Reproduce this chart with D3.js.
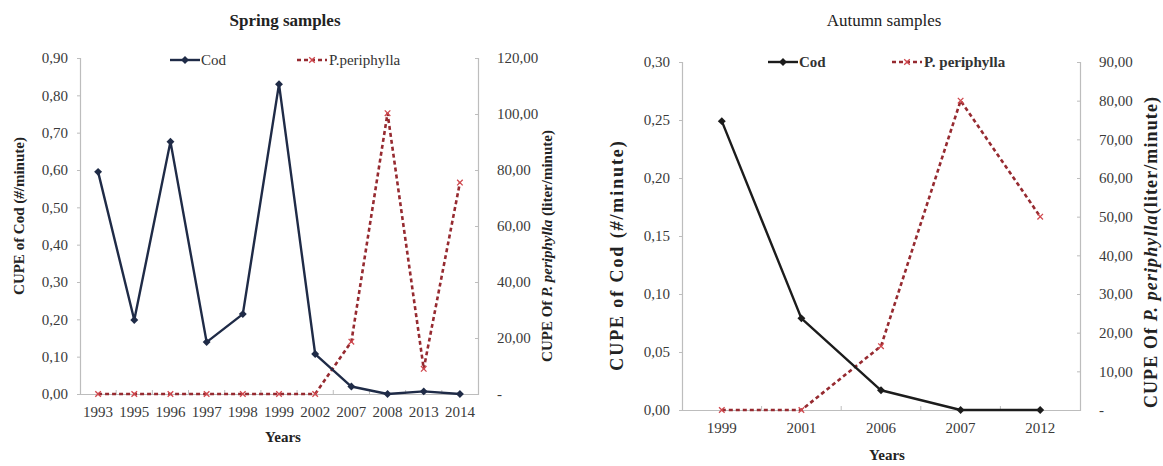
<!DOCTYPE html>
<html>
<head>
<meta charset="utf-8">
<script src="https://cdn.jsdelivr.net/npm/d3@7"></script>
<style>
  html, body { margin: 0; padding: 0; background: #fff; }
  svg { display: block; }
  svg text { font-family: "Liberation Serif", "DejaVu Serif", serif !important; }
</style>
</head>
<body>
<svg id="chart" width="1163" height="466"></svg>
<script>
// ---------- data ----------
const springYears = ["1993","1995","1996","1997","1998","1999","2002","2007","2008","2013","2014"];
const springCod   = [0.595, 0.198, 0.676, 0.139, 0.214, 0.830, 0.107, 0.020, 0.000, 0.007, 0.000];
const springPer   = [0, 0, 0, 0, 0, 0, 0, 18.7, 100.3, 9.0, 75.5];

const autumnYears = ["1999","2001","2006","2007","2012"];
const autumnCod   = [0.249, 0.079, 0.017, 0.000, 0.000];
const autumnPer   = [0, 0, 16.5, 80, 50];

const springCodTicks = [0, 0.1, 0.2, 0.3, 0.4, 0.5, 0.6, 0.7, 0.8, 0.9];
const springPerTicks = [0, 20, 40, 60, 80, 100, 120];
const autumnCodTicks = [0, 0.05, 0.10, 0.15, 0.20, 0.25, 0.30];
const autumnPerTicks = [0, 10, 20, 30, 40, 50, 60, 70, 80, 90];

const titles = ["Spring samples", "Autumn samples"];
const legendCod = "Cod";
const legendPerSpring = "P.periphylla";
const legendPerAutumn = "P. periphylla";

// ---------- helpers ----------
const loc = d3.formatLocale({decimal: ",", thousands: ".", grouping: [3], currency: ["", ""]});
const fmt2 = loc.format(".2f");
const fmtRight = d => d === 0 ? "-" : fmt2(d);

const svg = d3.select("#chart");
const axisGray = "#bdbdbd";
const tickText = "#3a3a3a";
const redCol = "#962a30";

function panel(o) {
  const g = svg.append("g");
  const x = d3.scaleBand().domain(o.years).range([o.x0, o.x1]).paddingInner(0).paddingOuter(0);
  const yL = d3.scaleLinear().domain([0, o.codMax]).range([o.y0, o.yTop]);
  const yR = d3.scaleLinear().domain([0, o.perMax]).range([o.y0, o.yTop]);
  const cx = d => x(d) + x.bandwidth() / 2;

  // title
  g.append("text").attr("x", o.titleX).attr("y", 26).attr("text-anchor", "middle")
    .attr("font-size", 17).attr("font-weight", o.titleBold ? "bold" : "normal")
    .attr("fill", "#222").text(o.title);

  // left axis
  const aL = g.append("g").attr("transform", `translate(${o.x0},0)`)
    .call(d3.axisLeft(yL).tickValues(o.codTicks).tickFormat(fmt2).tickSize(3).tickPadding(9));
  // right axis
  const aR = g.append("g").attr("transform", `translate(${o.x1},0)`)
    .call(d3.axisRight(yR).tickValues(o.perTicks).tickFormat(fmtRight).tickSize(-3).tickPadding(19));
  [aL, aR].forEach(a => {
    a.select(".domain").attr("stroke", axisGray).attr("stroke-width", 1.2);
    a.selectAll(".tick line").attr("stroke", axisGray);
    a.selectAll(".tick text").attr("fill", tickText).attr("font-size", 15);
  });

  // bottom axis
  const aB = g.append("g").attr("transform", `translate(0,${o.y0})`)
    .call(d3.axisBottom(x).tickSize(0).tickPadding(o.xPad));
  aB.select(".domain").attr("stroke", axisGray).attr("stroke-width", 1.2);
  aB.selectAll(".tick text").attr("fill", tickText).attr("font-size", 15);
  // category boundary ticks
  aB.selectAll("line.bt").data(o.years.slice(1)).enter().append("line").attr("class", "bt")
    .attr("x1", d => x(d)).attr("x2", d => x(d)).attr("y1", 0).attr("y2", -4)
    .attr("stroke", axisGray);

  // axis titles
  const lt = g.append("text")
    .attr("transform", `translate(${o.ltX},${o.ltY}) rotate(-90)`)
    .attr("text-anchor", "middle").attr("font-size", o.axFont).attr("font-weight", "bold").attr("fill", "#222")
    .attr("letter-spacing", o.ltSpacing);
  lt.append("tspan").text("CUPE of Cod (");
  lt.append("tspan").attr("font-style", "italic").text("#");
  lt.append("tspan").text("/minute)");

  const rt = g.append("text")
    .attr("transform", `translate(${o.rtX},${o.rtY}) rotate(-90)`)
    .attr("text-anchor", "middle").attr("font-size", o.axFont).attr("font-weight", "bold").attr("fill", "#222")
    .attr("letter-spacing", o.rtSpacing);
  rt.append("tspan").text("CUPE Of ");
  rt.append("tspan").attr("font-style", "italic").text("P. periphylla");
  rt.append("tspan").text(o.rtSpace ? " (liter/minute)" : "(liter/minute)");

  g.append("text").attr("x", o.yearsX).attr("y", o.yearsY).attr("text-anchor", "middle")
    .attr("font-size", 15).attr("font-weight", "bold").attr("fill", "#222").text("Years");

  // series
  const codData = o.years.map((d, i) => [cx(d), yL(o.cod[i])]);
  const perData = o.years.map((d, i) => [cx(d), yR(o.per[i])]);
  const line = d3.line();

  g.append("path").attr("d", line(perData)).attr("fill", "none")
    .attr("stroke", redCol).attr("stroke-width", 2.6).attr("stroke-dasharray", "4 3");
  perData.forEach(p => xMark(g, p[0], p[1]));

  g.append("path").attr("d", line(codData)).attr("fill", "none")
    .attr("stroke", o.codCol).attr("stroke-width", 2.4).attr("stroke-linejoin", "round");
  codData.forEach(p => diamond(g, p[0], p[1], o.codCol));

  // legend
  const ly = o.legY;
  g.append("line").attr("x1", o.legCodX).attr("x2", o.legCodX + 30).attr("y1", ly).attr("y2", ly)
    .attr("stroke", o.codCol).attr("stroke-width", 2.4);
  diamond(g, o.legCodX + 15, ly, o.codCol);
  g.append("text").attr("x", o.legCodX + 31).attr("y", ly).attr("dy", "0.35em")
    .attr("font-size", 15).attr("font-weight", o.legBold ? "bold" : "normal").attr("fill", "#333").text(legendCod);

  g.append("line").attr("x1", o.legPerX).attr("x2", o.legPerX + 30).attr("y1", ly).attr("y2", ly)
    .attr("stroke", redCol).attr("stroke-width", 2.6).attr("stroke-dasharray", "4 3");
  xMark(g, o.legPerX + 15, ly);
  g.append("text").attr("x", o.legPerX + 32).attr("y", ly).attr("dy", "0.35em")
    .attr("font-size", 15).attr("font-weight", o.legBold ? "bold" : "normal").attr("fill", "#333").text(o.legPer);
}

function diamond(g, x, y, col) {
  g.append("path").attr("transform", `translate(${x},${y})`)
    .attr("d", d3.symbol(d3.symbolDiamond2, 40)()).attr("fill", col);
}
function xMark(g, x, y) {
  g.append("path").attr("transform", `translate(${x},${y})`)
    .attr("d", d3.symbol(d3.symbolX, 22)()).attr("stroke", "#d0484e").attr("stroke-width", 1.3).attr("fill", "none");
}

panel({
  years: springYears, cod: springCod, per: springPer,
  codTicks: springCodTicks, perTicks: springPerTicks, codMax: 0.9, perMax: 120,
  x0: 80, x1: 478, y0: 394, yTop: 58, xPad: 12,
  title: titles[0], titleBold: true, titleX: 285,
  ltX: 24, ltY: 216, rtX: 552, rtY: 246, rtSpace: true, ltSpacing: 0, rtSpacing: 0, axFont: 15,
  yearsX: 283, yearsY: 442,
  codCol: "#1f2b47", legY: 60, legCodX: 170, legPerX: 297, legBold: false, legPer: legendPerSpring
});

panel({
  years: autumnYears, cod: autumnCod, per: autumnPer,
  codTicks: autumnCodTicks, perTicks: autumnPerTicks, codMax: 0.3, perMax: 90,
  x0: 682, x1: 1080, y0: 410, yTop: 62, xPad: 12,
  title: titles[1], titleBold: false, titleX: 884,
  ltX: 623, ltY: 255, rtX: 1157, rtY: 252, rtSpace: false, ltSpacing: 1.9, rtSpacing: 1.1, axFont: 18,
  yearsX: 887, yearsY: 460,
  codCol: "#1c1c1c", legY: 62, legCodX: 768, legPerX: 892, legBold: true, legPer: legendPerAutumn
});
</script>
</body>
</html>
